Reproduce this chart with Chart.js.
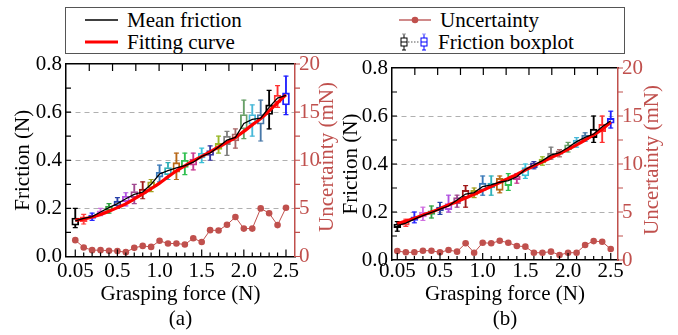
<!DOCTYPE html>
<html>
<head>
<meta charset="utf-8">
<script src="https://cdn.jsdelivr.net/npm/chart.js@4.4.0/dist/chart.umd.min.js"></script>
<style>
html, body { margin: 0; padding: 0; background: #fff; }
#wrap { position: relative; width: 678px; height: 335px; overflow: hidden; font-family: 'Liberation Serif'; }
canvas { position: absolute; top: 0; }
#legend { position: absolute; left: 65px; top: 7px; width: 560px; height: 47px; border: 1px solid #555; box-sizing: border-box; background: #fff; font-family: 'Liberation Serif'; font-size: 21px; }
.item { position: absolute; height: 22px; line-height: 22px; display: flex; align-items: center; white-space: nowrap; }
.item svg { margin-right: 8px; }
</style>
</head>
<body>
<div id="wrap">
  <canvas id="chartA" width="339" height="335" style="left:0"></canvas>
  <canvas id="chartB" width="339" height="335" style="left:339px"></canvas>
  <div id="legend">
    <div class="item" style="left:19px;top:1px">
      <svg width="34" height="10"><line x1="0" y1="5" x2="33" y2="5" stroke="#000" stroke-width="1.3"/></svg>Mean friction
    </div>
    <div class="item" style="left:19px;top:23px">
      <svg width="34" height="10"><line x1="0" y1="5" x2="33" y2="5" stroke="#f00" stroke-width="3"/></svg>Fitting curve
    </div>
    <div class="item" style="left:333px;top:1px">
      <svg width="33" height="10"><line x1="0" y1="5" x2="32" y2="5" stroke="#d08a8a" stroke-width="2"/><circle cx="16" cy="5" r="3.3" fill="#c0504d"/></svg>Uncertainty
    </div>
    <div class="item" style="left:334px;top:23px">
      <svg width="30" height="22">
        <line x1="4" y1="3" x2="4" y2="19" stroke="#000" stroke-width="1"/>
        <line x1="2" y1="3" x2="6" y2="3" stroke="#999" stroke-width="1"/>
        <line x1="2" y1="19" x2="6" y2="19" stroke="#000" stroke-width="1"/>
        <rect x="1" y="7" width="6" height="8" fill="#fff" stroke="#000" stroke-width="1"/>
        <line x1="1" y1="11" x2="7" y2="11" stroke="#000" stroke-width="1"/>
        <line x1="8" y1="11" x2="20" y2="11" stroke="#555" stroke-width="1" stroke-dasharray="1.5,1.5"/>
        <line x1="24" y1="3" x2="24" y2="19" stroke="#00f" stroke-width="1"/>
        <line x1="22" y1="3" x2="26" y2="3" stroke="#99f" stroke-width="1"/>
        <line x1="22" y1="19" x2="26" y2="19" stroke="#00f" stroke-width="1"/>
        <rect x="21" y="7" width="6" height="8" fill="#fff" stroke="#00f" stroke-width="1"/>
        <line x1="21" y1="11" x2="27" y2="11" stroke="#00f" stroke-width="1"/>
      </svg>Friction boxplot
    </div>
  </div>
</div>
<script>
// grasping force levels (one box per level, equally spaced)
const forces = [0.05, 0.1, 0.2, 0.3, 0.4, 0.5, 0.6, 0.7, 0.8, 0.9, 1.0, 1.1, 1.2, 1.3, 1.4, 1.5, 1.6, 1.7, 1.8, 1.9, 2.0, 2.1, 2.2, 2.3, 2.4, 2.5];
const xTickLabels = ['0.05', '0.5', '1.0', '1.5', '2.0', '2.5'];
const frictionTicks = [0.0, 0.2, 0.4, 0.6, 0.8];
const uncertaintyTicks = [0, 5, 10, 15, 20];

// panel (a)
const meanA = [0.148, 0.158, 0.166, 0.185, 0.203, 0.220, 0.240, 0.258, 0.268, 0.300, 0.343, 0.357, 0.368, 0.378, 0.392, 0.416, 0.430, 0.455, 0.484, 0.495, 0.553, 0.570, 0.575, 0.620, 0.658, 0.670];
const fitA = [0.150, 0.156, 0.164, 0.175, 0.188, 0.203, 0.219, 0.239, 0.260, 0.282, 0.305, 0.331, 0.356, 0.377, 0.397, 0.416, 0.435, 0.455, 0.474, 0.494, 0.520, 0.547, 0.573, 0.605, 0.639, 0.672];
const boxLowA = [0.12, 0.135, 0.15, 0.17, 0.18, 0.20, 0.21, 0.22, 0.24, 0.27, 0.31, 0.32, 0.32, 0.34, 0.36, 0.39, 0.40, 0.43, 0.42, 0.45, 0.49, 0.50, 0.48, 0.53, 0.62, 0.59];
const boxQ1A = [0.13, 0.145, 0.158, 0.178, 0.192, 0.21, 0.228, 0.245, 0.26, 0.285, 0.33, 0.34, 0.35, 0.37, 0.38, 0.41, 0.42, 0.445, 0.465, 0.48, 0.53, 0.55, 0.55, 0.59, 0.64, 0.63];
const boxQ3A = [0.16, 0.165, 0.172, 0.19, 0.21, 0.23, 0.25, 0.27, 0.28, 0.31, 0.35, 0.37, 0.39, 0.40, 0.405, 0.43, 0.44, 0.47, 0.50, 0.51, 0.59, 0.59, 0.59, 0.63, 0.67, 0.68];
const boxHighA = [0.20, 0.175, 0.18, 0.20, 0.22, 0.245, 0.265, 0.30, 0.31, 0.32, 0.38, 0.39, 0.43, 0.43, 0.43, 0.45, 0.46, 0.50, 0.52, 0.53, 0.65, 0.63, 0.65, 0.69, 0.71, 0.75];
const uncA = [1.7, 0.94, 0.66, 0.66, 0.6, 0.56, 0.45, 0.9, 1.1, 1.0, 1.63, 1.35, 1.35, 1.25, 1.9, 1.5, 2.74, 2.7, 3.3, 4.1, 2.9, 2.9, 5.0, 4.5, 3.26, 5.07];

// panel (b)
const meanB = [0.143, 0.154, 0.170, 0.185, 0.198, 0.212, 0.225, 0.250, 0.275, 0.281, 0.306, 0.313, 0.324, 0.331, 0.347, 0.377, 0.396, 0.414, 0.437, 0.447, 0.469, 0.493, 0.511, 0.525, 0.555, 0.580];
const fitB = [0.152, 0.162, 0.174, 0.187, 0.200, 0.214, 0.229, 0.243, 0.258, 0.274, 0.290, 0.306, 0.323, 0.340, 0.357, 0.375, 0.392, 0.409, 0.426, 0.443, 0.461, 0.480, 0.500, 0.521, 0.545, 0.574];
const boxLowB = [0.12, 0.14, 0.155, 0.165, 0.175, 0.19, 0.20, 0.22, 0.22, 0.26, 0.27, 0.27, 0.28, 0.29, 0.32, 0.34, 0.38, 0.395, 0.42, 0.43, 0.45, 0.47, 0.495, 0.49, 0.49, 0.55];
const boxQ1B = [0.135, 0.145, 0.165, 0.18, 0.19, 0.205, 0.21, 0.235, 0.26, 0.27, 0.29, 0.30, 0.29, 0.31, 0.335, 0.35, 0.385, 0.405, 0.43, 0.44, 0.46, 0.485, 0.50, 0.51, 0.535, 0.57];
const boxQ3B = [0.15, 0.16, 0.18, 0.20, 0.205, 0.22, 0.235, 0.26, 0.29, 0.29, 0.32, 0.32, 0.34, 0.34, 0.35, 0.385, 0.405, 0.42, 0.445, 0.455, 0.48, 0.50, 0.52, 0.545, 0.565, 0.59];
const boxHighB = [0.16, 0.17, 0.20, 0.22, 0.225, 0.24, 0.27, 0.27, 0.31, 0.30, 0.35, 0.35, 0.35, 0.36, 0.36, 0.40, 0.41, 0.43, 0.47, 0.46, 0.49, 0.51, 0.53, 0.60, 0.60, 0.62];
const uncB = [0.94, 0.8, 0.8, 0.97, 0.97, 0.8, 1.04, 0.87, 1.74, 0.76, 1.8, 1.74, 2.0, 1.8, 1.46, 1.39, 0.76, 0.76, 0.87, 0.52, 0.76, 0.76, 1.56, 1.97, 1.9, 1.14];

const boxColors = ['#000000', '#ff4040', '#2828ff', '#d070e0', '#30a040', '#2840a8', '#b050e0', '#a04890', '#a01818', '#a0a020',
  '#3878b8', '#30b0b8', '#b86818', '#30c050', '#c83890', '#38c0d8', '#3838a0', '#98b828', '#808080', '#a86868',
  '#68a068', '#48b8d8', '#4878a8', '#000000', '#ff3030', '#2020ff'];

const RED = '#c0504d';
const FONT = 'Liberation Serif';
Chart.defaults.font.family = FONT;

function pts(values) { return values.map((v, i) => ({ x: i, y: v })); }
function rng(lo, hi) { return lo.map((v, i) => ({ x: i, y: [v, hi[i]] })); }

// inward tick marks + right axis title (reads bottom to top)
const axisDecor = {
  id: 'axisDecor',
  afterDraw(chart, args, o) {
    const { ctx, chartArea: a, scales } = chart;
    ctx.save();
    ctx.lineWidth = 1.2;
    ctx.strokeStyle = '#000';
    ctx.beginPath();
    scales.x.ticks.forEach(t => {
      const px = scales.x.getPixelForValue(t.value);
      if (px < a.left + 2 || px > a.right - 2) return;
      const len = t.value % 5 === 0 ? 7 : 4;
      ctx.moveTo(px, a.bottom); ctx.lineTo(px, a.bottom - len);
    });
    scales.x2.ticks.forEach(t => {
      const px = scales.x2.getPixelForValue(t.value);
      if (px < a.left + 2 || px > a.right - 2) return;
      ctx.moveTo(px, a.top); ctx.lineTo(px, a.top + 7);
    });
    scales.y.ticks.forEach(t => {
      const py = scales.y.getPixelForValue(t.value);
      if (py < a.top + 2 || py > a.bottom - 2) return;
      ctx.moveTo(a.left, py); ctx.lineTo(a.left + 5, py);
    });
    ctx.stroke();
    ctx.strokeStyle = RED;
    ctx.beginPath();
    scales.y2.ticks.forEach(t => {
      const py = scales.y2.getPixelForValue(t.value);
      ctx.moveTo(a.right, py); ctx.lineTo(a.right + 5, py);
    });
    ctx.stroke();
    ctx.fillStyle = RED;
    ctx.font = "21px 'Liberation Serif'";
    ctx.textAlign = 'center';
    ctx.textBaseline = 'middle';
    ctx.translate(o.titleX, o.titleY);
    ctx.rotate(-Math.PI / 2);
    ctx.fillText(o.title, 0, 0);
    ctx.restore();
  }
};

function makeChart(id, d, lay) {
  const n = forces.length;
  return new Chart(document.getElementById(id), {
    type: 'line',
    data: {
      datasets: [
        { type: 'line', label: 'Uncertainty', data: pts(d.unc), yAxisID: 'y2', borderColor: RED, borderWidth: 1,
          pointRadius: 3.3, pointBackgroundColor: RED, pointBorderWidth: 0, order: 0 },
        { type: 'line', label: 'Mean friction', data: pts(d.mean), borderColor: '#000', borderWidth: 1.3,
          pointRadius: 0, order: 1 },
        { type: 'line', label: 'Fitting curve', data: pts(d.fit), borderColor: '#ff0000', borderWidth: 3.2,
          pointRadius: 0, cubicInterpolationMode: 'monotone', order: 2 },
        { type: 'bar', label: 'box', data: rng(d.q1, d.q3), backgroundColor: 'rgba(255,255,255,0)', borderColor: boxColors,
          borderWidth: 1.2, borderSkipped: false, barThickness: 7, grouped: false, order: 3 },
        { type: 'bar', label: 'whiskerLow', data: rng(d.low, d.q1), backgroundColor: boxColors, borderWidth: 0,
          barThickness: 1.2, grouped: false, order: 4 },
        { type: 'bar', label: 'whiskerHigh', data: rng(d.q3, d.high), backgroundColor: boxColors, borderWidth: 0,
          barThickness: 1.2, grouped: false, order: 4 },
        { type: 'line', label: 'capLow', data: pts(d.low), showLine: false, pointStyle: 'line', pointRadius: 2.5,
          pointBorderColor: boxColors, pointBorderWidth: 1.2, order: 4 },
        { type: 'line', label: 'capHigh', data: pts(d.high), showLine: false, pointStyle: 'line', pointRadius: 2.5,
          pointBorderColor: boxColors, pointBorderWidth: 1.2, order: 4 }
      ]
    },
    options: {
      responsive: false,
      animation: false,
      devicePixelRatio: 1,
      layout: { padding: 0 },
      plugins: {
        legend: { display: false },
        tooltip: { enabled: false },
        axisDecor: { title: 'Uncertainty (mN)', titleX: lay.y2TitleX, titleY: lay.y2TitleY }
      },
      scales: {
        x: {
          type: 'linear', position: 'bottom', min: lay.xMin, max: lay.xMax, offset: false,
          grid: { display: true, drawOnChartArea: false, drawTicks: false, offset: false },
          border: { display: true, color: '#000', width: 1.5 },
          ticks: {
            stepSize: 1, autoSkip: false, maxRotation: 0, includeBounds: false, padding: lay.xPad,
            color: '#000', font: { family: FONT, size: 21, lineHeight: 1 },
            callback: v => {
              if (v < 0 || v >= n || v % 5 !== 0) return '';
              return xTickLabels[v / 5];
            }
          },
          title: { display: true, text: ['Grasping force (N)', lay.panel], color: '#000',
            font: { family: FONT, size: 21, lineHeight: 1.2 }, padding: { top: 0, bottom: 3 } },
          afterFit: s => { s.height = 335 - lay.bottom; }
        },
        x2: {
          type: 'linear', position: 'top', min: 0, max: lay.x2Max,
          grid: { display: true, drawOnChartArea: false, drawTicks: false },
          border: { display: true, color: '#000', width: 1.5 },
          ticks: { stepSize: 1, display: false, includeBounds: false },
          afterFit: s => { s.height = lay.top; }
        },
        y: {
          type: 'linear', position: 'left', min: 0, max: 0.8,
          grid: {
            drawTicks: false, lineWidth: 1,
            color: c => (frictionTicks.slice(1, -1).some(v => Math.abs(v - c.tick.value) < 1e-6) ? '#b0b0b0' : 'rgba(0,0,0,0)')
          },
          border: { display: true, color: '#000', width: 1.5, dash: [5, 4] },
          ticks: {
            stepSize: 0.1, autoSkip: false, padding: 4, color: '#000',
            font: { family: FONT, size: 21, lineHeight: 1 },
            callback: v => {
              const hit = frictionTicks.find(t => Math.abs(t - v) < 1e-6);
              return hit === undefined ? '' : hit.toFixed(1);
            }
          },
          title: { display: true, text: 'Friction (N)', color: '#000',
            font: { family: FONT, size: 21, lineHeight: 1.2 }, padding: { top: lay.yTitlePad, bottom: 0 } },
          afterFit: s => { s.width = lay.left; }
        },
        y2: {
          type: 'linear', position: 'right', min: 0, max: 20,
          grid: { display: false, drawOnChartArea: false, drawTicks: false },
          border: { display: true, color: RED, width: 1.5 },
          ticks: {
            stepSize: 2.5, autoSkip: false, padding: 4, color: RED,
            font: { family: FONT, size: 21, lineHeight: 1 },
            callback: v => (uncertaintyTicks.includes(v) ? String(v) : '')
          },
          afterFit: s => { s.width = 339 - lay.right; }
        }
      }
    },
    plugins: [axisDecor]
  });
}

makeChart('chartA',
  { mean: meanA, fit: fitA, low: boxLowA, q1: boxQ1A, q3: boxQ3A, high: boxHighA, unc: uncA },
  { panel: '(a)', left: 66, right: 295, top: 64, bottom: 256.5, xMin: -1.1, xMax: 26.07, x2Max: 9.84,
    xPad: 4, yTitlePad: 11, y2TitleX: 327, y2TitleY: 157 });

makeChart('chartB',
  { mean: meanB, fit: fitB, low: boxLowB, q1: boxQ1B, q3: boxQ3B, high: boxHighB, unc: uncB },
  { panel: '(b)', left: 53, right: 279, top: 68, bottom: 260, xMin: -0.62, xMax: 25.85, x2Max: 9.9,
    xPad: 1, yTitlePad: 0, y2TitleX: 313, y2TitleY: 160 });
</script>
</body>
</html>
